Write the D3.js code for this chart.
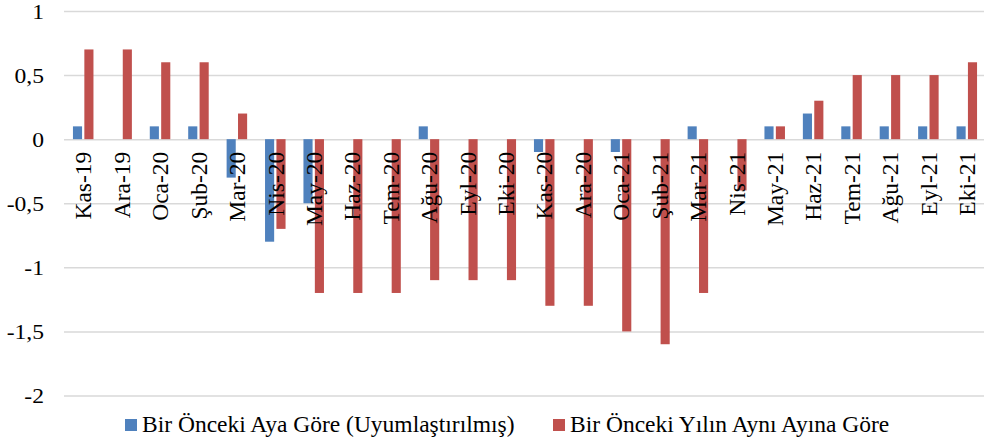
<!DOCTYPE html>
<html>
<head>
<meta charset="utf-8">
<script src="https://cdn.jsdelivr.net/npm/d3@7"></script>
<style>
  html, body { margin: 0; padding: 0; background: #fff; }
  svg { display: block; }
</style>
</head>
<body>
<svg id="chart" width="984" height="442"></svg>
<script>
const categories = ["Kas-19","Ara-19","Oca-20","Şub-20","Mar-20","Nis-20","May-20","Haz-20","Tem-20","Ağu-20","Eyl-20","Eki-20","Kas-20","Ara-20","Oca-21","Şub-21","Mar-21","Nis-21","May-21","Haz-21","Tem-21","Ağu-21","Eyl-21","Eki-21"];
const monthly = [0.1,0,0.1,0.1,-0.3,-0.8,-0.5,0,0,0.1,0,0,-0.1,0,-0.1,0,0.1,0,0.1,0.2,0.1,0.1,0.1,0.1];
const yearly = [0.7,0.7,0.6,0.6,0.2,-0.7,-1.2,-1.2,-1.2,-1.1,-1.1,-1.1,-1.3,-1.3,-1.5,-1.6,-1.2,-0.4,0.1,0.3,0.5,0.5,0.5,0.6];
const seriesNames = ["Bir Önceki Aya Göre (Uyumlaştırılmış)", "Bir Önceki Yılın Aynı Ayına Göre"];
const seriesKeys = ["m", "y"];
const seriesColors = ["#4F81BD", "#C0504D"];
const yTicks = [1, 0.5, 0, -0.5, -1, -1.5, -2];
const yTickLabels = ["1", "0,5", "0", "-0,5", "-1", "-1,5", "-2"];

(function () {
const FONT = "Liberation Serif, Times New Roman, Tinos, DejaVu Serif, serif";
const svg = d3.select("#chart");
const plotLeft = 64, plotRight = 986, plotTop = 11, plotBottom = 395.5;

const y = d3.scaleLinear().domain([-2, 1]).range([plotBottom, plotTop]);
const x0 = d3.scaleBand().domain(categories).range([plotLeft, plotRight]).paddingInner(0.466).paddingOuter(0.233);
const x1 = d3.scaleBand().domain(seriesKeys).range([0, x0.bandwidth()]).paddingInner(0.2);
const color = d3.scaleOrdinal().domain(seriesKeys).range(seriesColors);

// Gridlines + y tick labels via axis
const yAxis = d3.axisLeft(y).tickValues(yTicks).tickSize(-(984 - plotLeft)).tickFormat((d, i) => yTickLabels[i]);
const gy = svg.append("g").attr("transform", `translate(${plotLeft},0)`).call(yAxis)
  .attr("font-family", FONT).attr("font-size", 20.5);
gy.select(".domain").remove();
gy.selectAll(".tick line").attr("stroke", "#d9d9d9").attr("stroke-width", 1.5);
const sx = 1.15;
gy.selectAll(".tick text")
  .attr("x", -20 / sx)
  .attr("dy", "0.36em")
  .attr("transform", `scale(${sx},1)`)
  .attr("fill", "#000");

// Bars
const data = categories.map((c, i) => ({ cat: c, m: monthly[i], y: yearly[i] }));
const groups = svg.append("g").selectAll("g").data(data).join("g")
  .attr("transform", d => `translate(${x0(d.cat)},0)`);
groups.selectAll("rect")
  .data(d => seriesKeys.map(k => ({ key: k, value: d[k] })))
  .join("rect")
  .attr("x", d => x1(d.key))
  .attr("width", x1.bandwidth())
  .attr("y", d => y(Math.max(0, d.value)))
  .attr("height", d => Math.abs(y(d.value) - y(0)))
  .attr("fill", d => color(d.key));

// Category labels (rotated) via bottom axis positioned at zero
const xAxis = d3.axisBottom(x0).tickSize(0).tickPadding(0);
const gx = svg.append("g").attr("transform", `translate(0,${y(0)})`).call(xAxis)
  .attr("font-family", FONT).attr("font-size", 23.5);
gx.select(".domain").remove();
gx.selectAll(".tick text")
  .attr("transform", "rotate(-90)")
  .attr("x", -12.5)
  .attr("y", 0)
  .attr("dy", "0.35em")
  .attr("text-anchor", "end")
  .attr("fill", "#000");

// Legend
const legendPos = [125, 553];
const legend = svg.append("g").attr("font-family", FONT).attr("font-size", 23.5);
seriesKeys.forEach((k, i) => {
  legend.append("rect")
    .attr("x", legendPos[i]).attr("y", 419)
    .attr("width", 12).attr("height", 12)
    .attr("fill", color(k));
  legend.append("text")
    .attr("x", legendPos[i] + 17).attr("y", 431.5)
    .attr("fill", "#000")
    .text(seriesNames[i]);
});
})();
</script>
</body>
</html>
